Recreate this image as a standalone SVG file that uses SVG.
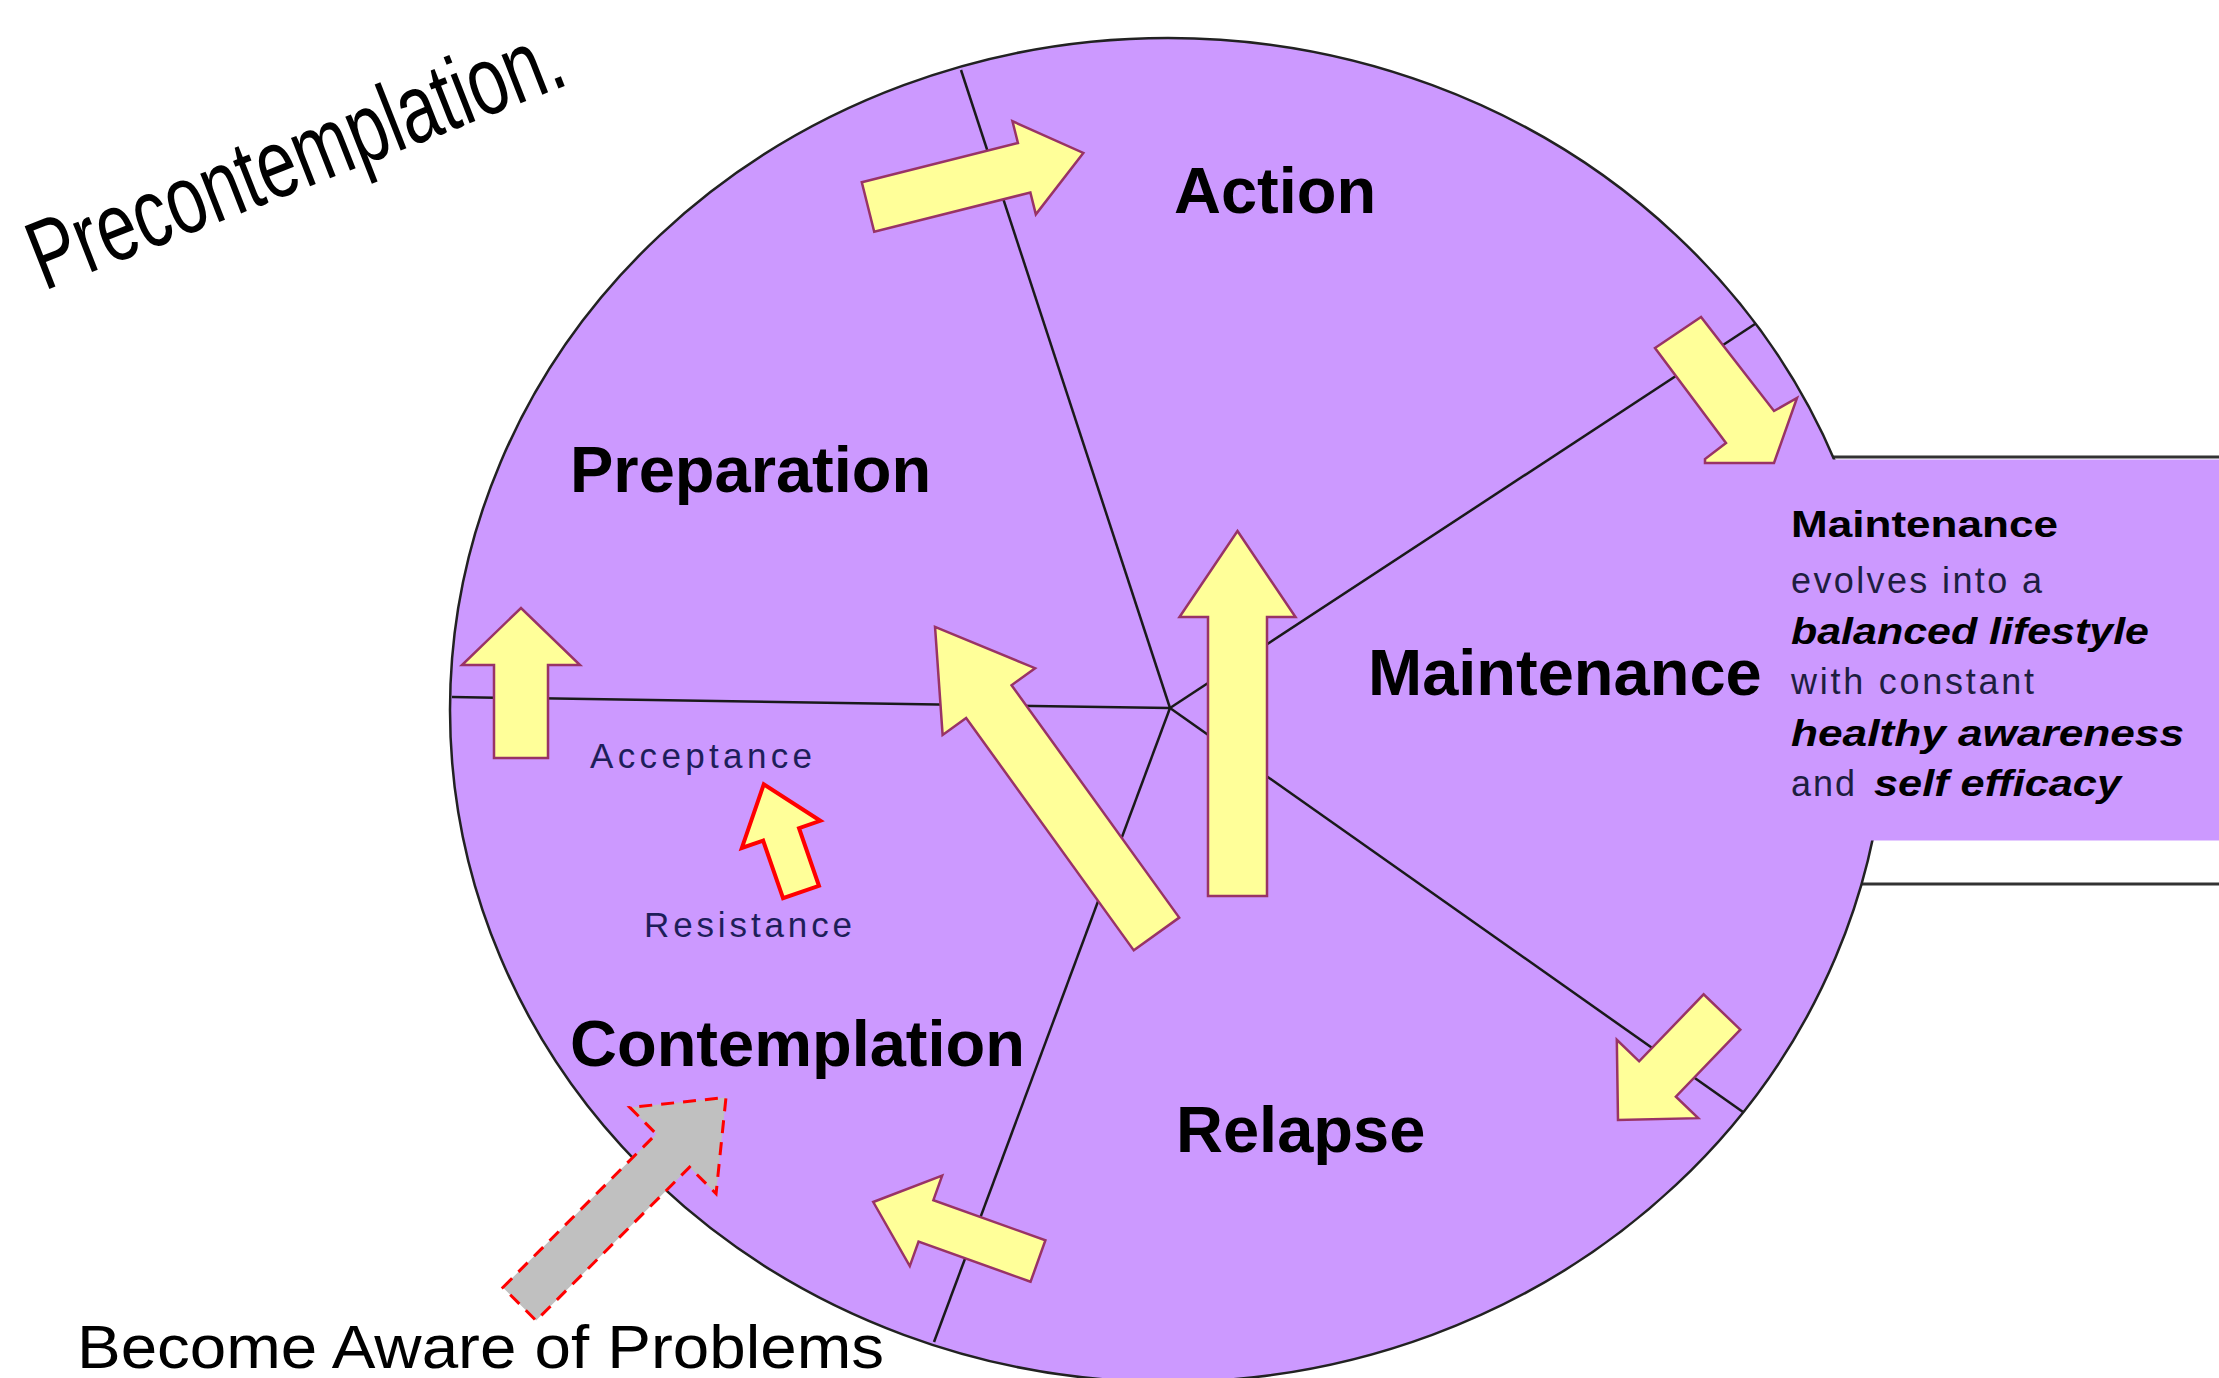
<svg xmlns="http://www.w3.org/2000/svg" width="2219" height="1378" viewBox="0 0 2219 1378">
<style>
.stage{font-family:"Liberation Sans",Arial,sans-serif;font-weight:bold;font-size:65px;fill:#000}
.spoke{stroke:#1a1a1a;stroke-width:2.5;fill:none}
.ya{fill:#FFFF99;stroke:#993366;stroke-width:2.5;stroke-linejoin:miter}
.side{font-family:"Liberation Sans",Arial,sans-serif;font-size:36px;fill:#1e1e40}
.sideb{font-family:"Liberation Sans",Arial,sans-serif;font-size:36px;font-weight:bold;font-style:italic;fill:#000}
.small{font-family:"Liberation Sans",Arial,sans-serif;font-size:35px;fill:#1e1e5a}
</style>
<rect width="2219" height="1378" fill="#fff"/>
<g id="maintenance-box-outline">
<rect x="1600" y="457" width="640" height="427" fill="#fff" stroke="#333" stroke-width="3"/>
</g>
<g id="wheel">
<ellipse cx="1168" cy="710" rx="718" ry="672" fill="#CC99FF" stroke="#222" stroke-width="2.5"/>
</g>
<g id="spokes">
<line class="spoke" x1="1170" y1="708" x2="961" y2="70"/>
<line class="spoke" x1="1170" y1="708" x2="452" y2="697"/>
<line class="spoke" x1="1170" y1="708" x2="1755" y2="324"/>
<line class="spoke" x1="1170" y1="708" x2="1743" y2="1112"/>
<line class="spoke" x1="1170" y1="708" x2="934" y2="1342"/>
</g>
<g id="connectors">
<path class="ya" transform="translate(868,207) rotate(-14.1)" d="M0,-25.5 H161 V-48 L222,0 L161,48 V25.5 H0 Z"/>
<path class="ya" transform="translate(1237.5,896) rotate(-90)" d="M0,-29.5 H279 V-58 L365,0 L279,58 V29.5 H0 Z"/>
<path class="ya" transform="translate(1156.5,934) rotate(-125.8)" d="M0,-28 H286.6 V-57 L378.6,0 L286.6,57 V28 H0 Z"/>
<path class="ya" transform="translate(521,758) rotate(-90)" d="M0,-27 H93 V-59 L150,0 L93,59 V27 H0 Z"/>
<path class="ya" transform="translate(1038,1261) rotate(-160.3)" d="M0,-22 H119 V-48 L175,0 L119,48 V22 H0 Z"/>
<path class="ya" transform="translate(1722,1012) rotate(133.9)" d="M0,-25.5 H93 V-56.5 L150,0 L93,56.5 V25.5 H0 Z"/>
<path fill="#FFFF99" stroke="#FF0000" stroke-width="4" transform="translate(801,892) rotate(-109.06)" d="M0,-19 H61 V-41.5 L114,0 L61,41.5 V19 H0 Z"/>
<path fill="#C0C0C0" stroke="#FF0000" stroke-width="3" stroke-dasharray="13 9" transform="translate(519.5,1304) rotate(-45)" d="M0,-23.5 H217 V-61 L292,0 L217,61 V23.5 H0 Z"/>
</g>
<g id="maintenance-box">
<rect x="1600" y="459.5" width="630" height="381" fill="#CC99FF"/>
<path class="ya" d="M1701,317 L1655,348 L1726,443 L1705,459 L1705,463 L1774,463 L1797,398 L1774,411 Z"/>
<text class="sideb" x="1791" y="537" textLength="267" lengthAdjust="spacingAndGlyphs" style="font-style:normal">Maintenance</text>
<text class="side" x="1791" y="593" textLength="251">evolves into a</text>
<text class="sideb" x="1791" y="644" textLength="358" lengthAdjust="spacingAndGlyphs">balanced lifestyle</text>
<text class="side" x="1791" y="694" textLength="243">with constant</text>
<text class="sideb" x="1791" y="746" textLength="393" lengthAdjust="spacingAndGlyphs">healthy awareness</text>
<text class="side" x="1791" y="796" textLength="64">and</text>
<text class="sideb" x="1874" y="796" textLength="247" lengthAdjust="spacingAndGlyphs">self efficacy</text>
</g>
<g id="stage-action"><text class="stage" x="1174" y="213">Action</text></g>
<g id="stage-preparation"><text class="stage" x="570" y="492">Preparation</text></g>
<g id="stage-maintenance"><text class="stage" x="1368" y="695">Maintenance</text></g>
<g id="stage-contemplation"><text class="stage" x="570" y="1066">Contemplation</text></g>
<g id="stage-relapse"><text class="stage" x="1176" y="1152">Relapse</text></g>
<g id="labels">
<text class="small" x="590" y="768" textLength="222">Acceptance</text>
<text class="small" x="644" y="937" textLength="208">Resistance</text>
</g>
<g id="stage-precontemplation">
<text transform="translate(44,291) rotate(-21.5)" font-family="Liberation Sans, Arial, sans-serif" font-size="98" fill="#000" textLength="566" lengthAdjust="spacingAndGlyphs">Precontemplation.</text>
</g>
<g id="become-aware">
<text x="77" y="1368" font-family="Liberation Sans, Arial, sans-serif" font-size="62" fill="#000" textLength="807" lengthAdjust="spacingAndGlyphs">Become Aware of Problems</text>
</g>
</svg>
